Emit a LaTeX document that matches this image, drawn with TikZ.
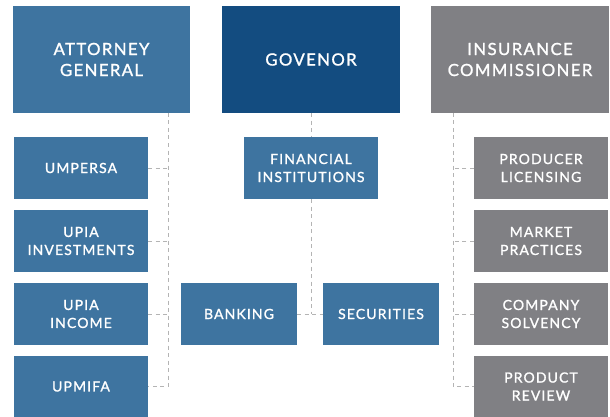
\documentclass[tikz,border=0pt]{standalone}
\usepackage{fontspec}
\newfontfamily\lbl[LetterSpace=8,FakeBold=1.2]{Lato}
\definecolor{agblue}{HTML}{3E74A0}
\definecolor{govblue}{HTML}{134C80}
\definecolor{insgray}{HTML}{808084}
\definecolor{dashgray}{HTML}{B4B4B4}
\begin{document}
\begin{tikzpicture}[x=1pt,y=-1pt,
  box/.style={rectangle, inner sep=0pt, text=white, align=center, anchor=center},
  bigbox/.style={box, minimum width=177pt, minimum height=107pt, font=\lbl\fontsize{16.8}{21}\selectfont},
  smallbox/.style={box, minimum width=134pt, minimum height=62pt, font=\lbl\fontsize{14}{18}\selectfont},
  midbox/.style={box, minimum width=116pt, minimum height=62pt, font=\lbl\fontsize{14}{18}\selectfont},
  conn/.style={draw=dashgray, line width=1pt, dash pattern=on 4pt off 3.5pt}]
\useasboundingbox (0,0) rectangle (610,417);
% top row
\node[bigbox, fill=agblue] (ag) at (101.5,59.5) {ATTORNEY\\GENERAL};
\node[bigbox, fill=govblue, minimum width=178pt] (gov) at (311,59.5) {GOVENOR};
\node[bigbox, fill=insgray, minimum width=178pt] (ins) at (520,59.5) {INSURANCE\\COMMISSIONER};
% left column
\node[smallbox, fill=agblue] (umpersa) at (81,168) {UMPERSA};
\node[smallbox, fill=agblue] (upiainv) at (81,241) {UPIA\\INVESTMENTS};
\node[smallbox, fill=agblue] (upiainc) at (81,314) {UPIA\\INCOME};
\node[smallbox, fill=agblue, minimum height=61pt] (upmifa) at (81,386.5) {UPMIFA};
% middle
\node[smallbox, fill=agblue] (fi) at (311,168) {FINANCIAL\\INSTITUTIONS};
\node[midbox, fill=agblue] (banking) at (239,314) {BANKING};
\node[midbox, fill=agblue] (sec) at (381,314) {SECURITIES};
% right column
\node[smallbox, fill=insgray] (prod) at (541,168) {PRODUCER\\LICENSING};
\node[smallbox, fill=insgray] (market) at (541,241) {MARKET\\PRACTICES};
\node[smallbox, fill=insgray] (solv) at (541,314) {COMPANY\\SOLVENCY};
\node[smallbox, fill=insgray, minimum height=61pt] (review) at (541,386.5) {PRODUCT\\REVIEW};
% connectors
\coordinate (agL) at (168,113);
\coordinate (insL) at (453,113);
\draw[conn] (agL) |- (upmifa.east);
\draw[conn] (umpersa.east) -- (umpersa.east -| agL);
\draw[conn] (upiainv.east) -- (upiainv.east -| agL);
\draw[conn] (upiainc.east) -- (upiainc.east -| agL);
\draw[conn] (gov.south) -- (fi.north);
\draw[conn] (fi.south) -- (fi.south |- banking.east);
\draw[conn] (banking.east) -- (sec.west);
\draw[conn] (insL) |- (review.west);
\draw[conn] (prod.west) -- (prod.west -| insL);
\draw[conn] (market.west) -- (market.west -| insL);
\draw[conn] (solv.west) -- (solv.west -| insL);
\end{tikzpicture}
\end{document}
